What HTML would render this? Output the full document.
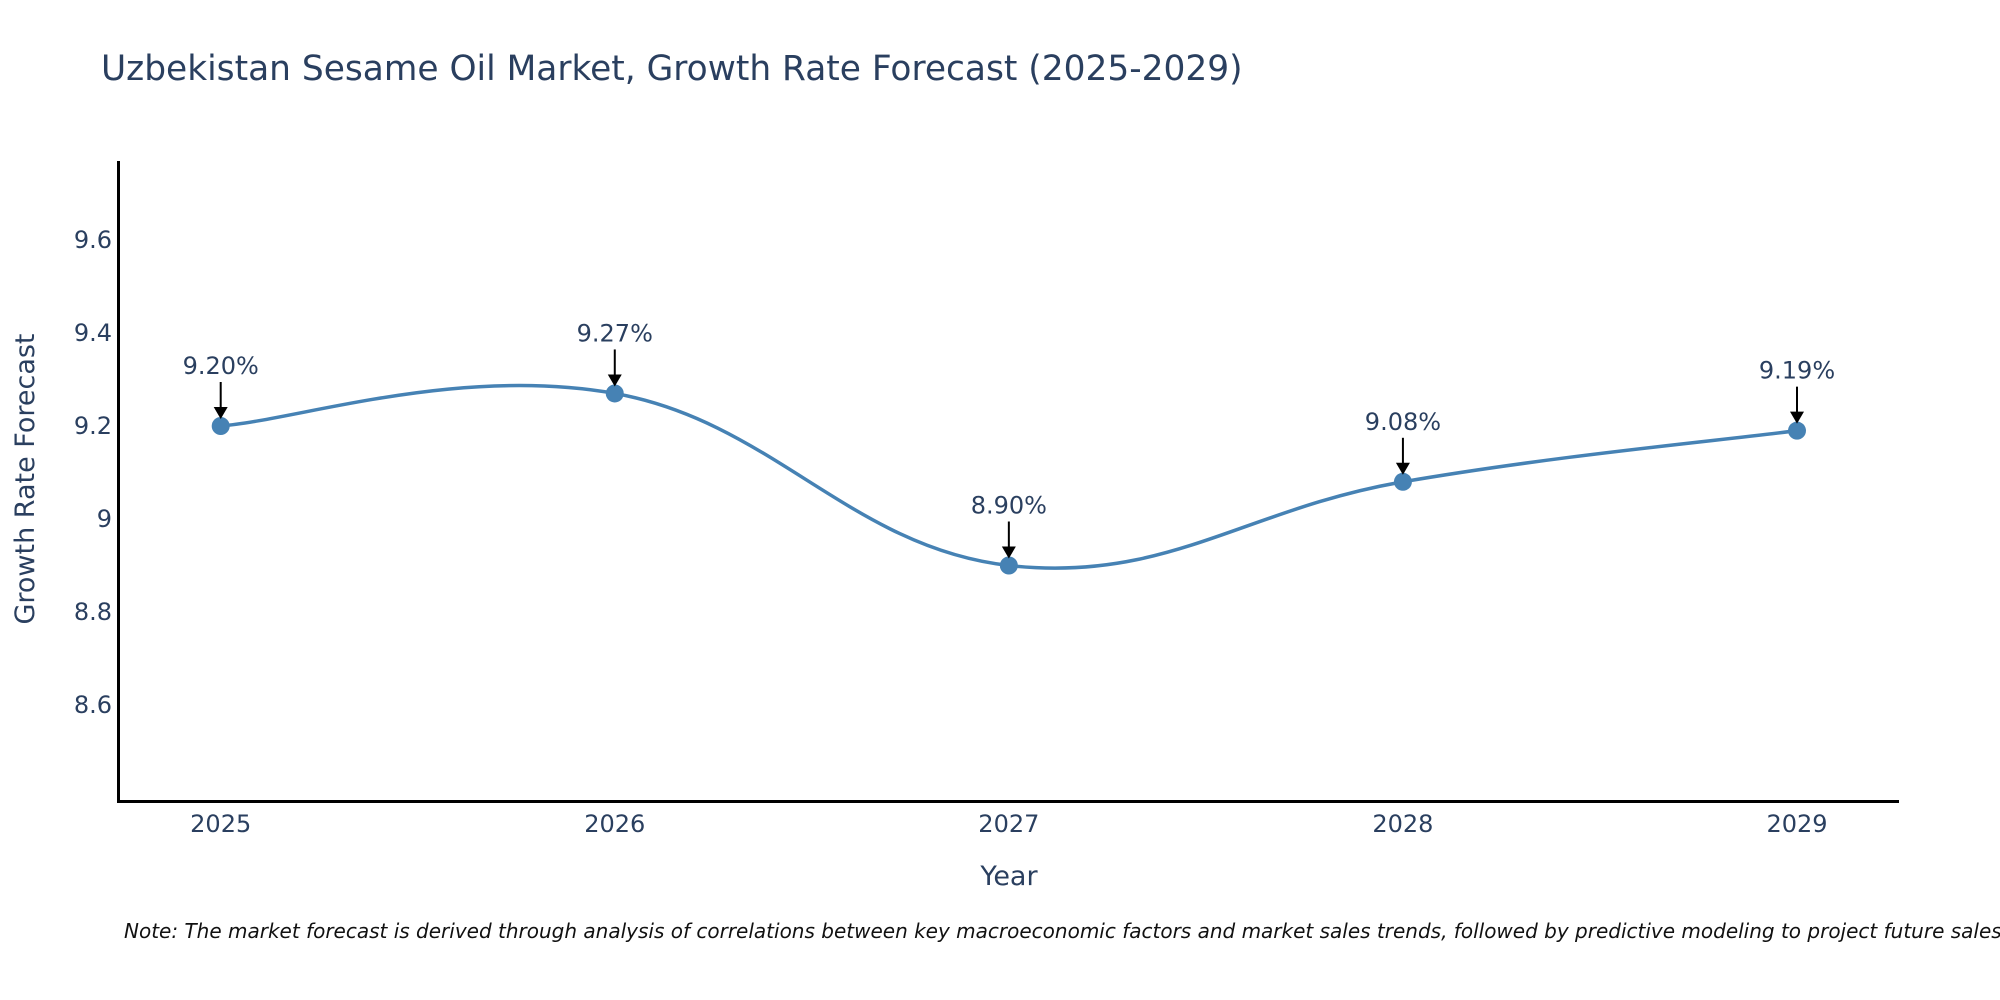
<!DOCTYPE html>
<html><head><meta charset="utf-8"><style>
html,body{margin:0;padding:0;background:#fff;}
svg{display:block;font-family:"DejaVu Sans","Liberation Sans",sans-serif;}
</style></head><body>
<svg id="chart" width="2000" height="1000" viewBox="0 0 2000 1000">
<text x="101" y="80" font-size="34.4" fill="#2a3f5f">Uzbekistan Sesame Oil Market, Growth Rate Forecast (2025-2029)</text>
<g id="yticks"></g>
<g id="xticks"></g>
<line x1="118.5" y1="161" x2="118.5" y2="802" stroke="#000" stroke-width="3"/>
<line x1="117" y1="801.5" x2="1899" y2="801.5" stroke="#000" stroke-width="3"/>
<path id="line" fill="none" stroke="#4682b4" stroke-width="3.5"/>
<g id="points"></g>
<g id="annos"></g>
<text transform="translate(34,479) rotate(-90)" text-anchor="middle" font-size="27" fill="#2a3f5f">Growth Rate Forecast</text>
<text x="1009" y="885" text-anchor="middle" font-size="27" fill="#2a3f5f">Year</text>
<text x="124" y="938" font-size="20" font-style="italic" fill="#111">Note: The market forecast is derived through analysis of correlations between key macroeconomic factors and market sales trends, followed by predictive modeling to project future sales.</text>
</svg>
<script>
const years=[2025,2026,2027,2028,2029];
const values=[9.20,9.27,8.90,9.08,9.19];
const labels=["9.20%","9.27%","8.90%","9.08%","9.19%"];
const yTickVals=[8.6,8.8,9.0,9.2,9.4,9.6];
const yTickLabels=["8.6","8.8","9","9.2","9.4","9.6"];
const NS="http://www.w3.org/2000/svg";
const x=v=>220.7+(v-2025)*(1797-220.7)/4;
const y=v=>705-(v-8.6)*465;
function mk(tag,attrs,parent){const e=document.createElementNS(NS,tag);for(const k in attrs)e.setAttribute(k,attrs[k]);parent.appendChild(e);return e;}
const yt=document.getElementById('yticks');
yTickVals.forEach((v,i)=>{const t=mk('text',{x:112,y:y(v)+8,'text-anchor':'end','font-size':24,fill:'#2a3f5f'},yt);t.textContent=yTickLabels[i];

});
const xt=document.getElementById('xticks');
years.forEach(v=>{const t=mk('text',{x:x(v),y:832,'text-anchor':'middle','font-size':24,fill:'#2a3f5f'},xt);t.textContent=String(v);

});
const P=years.map((v,i)=>[x(v),y(values[i])]);
let d=`M${P[0][0]},${P[0][1]}`;const s=0.2;
for(let i=0;i<P.length-1;i++){const p0=P[i-1]||P[i],p1=P[i],p2=P[i+1],p3=P[i+2]||P[i+1];
const c1=[p1[0]+(p2[0]-p0[0])*s,p1[1]+(p2[1]-p0[1])*s],c2=[p2[0]-(p3[0]-p1[0])*s,p2[1]-(p3[1]-p1[1])*s];
d+=` C${c1[0]},${c1[1]} ${c2[0]},${c2[1]} ${p2[0]},${p2[1]}`;}
document.getElementById('line').setAttribute('d',d);
const pts=document.getElementById('points'),an=document.getElementById('annos');
P.forEach((p,i)=>{const c=mk('circle',{cx:p[0],cy:p[1],r:9,fill:'#4682b4'},pts);


const g=mk('g',{},an);


mk('line',{x1:p[0],y1:p[1]-44,x2:p[0],y2:p[1]-16,stroke:'#000','stroke-width':2},g);
mk('polygon',{points:`${p[0]-7},${p[1]-19} ${p[0]+7},${p[1]-19} ${p[0]},${p[1]-7}`,fill:'#000'},g);
const t=mk('text',{x:p[0],y:p[1]-52,'text-anchor':'middle','font-size':24,fill:'#2a3f5f'},g);t.textContent=labels[i];});
</script>
</body></html>
